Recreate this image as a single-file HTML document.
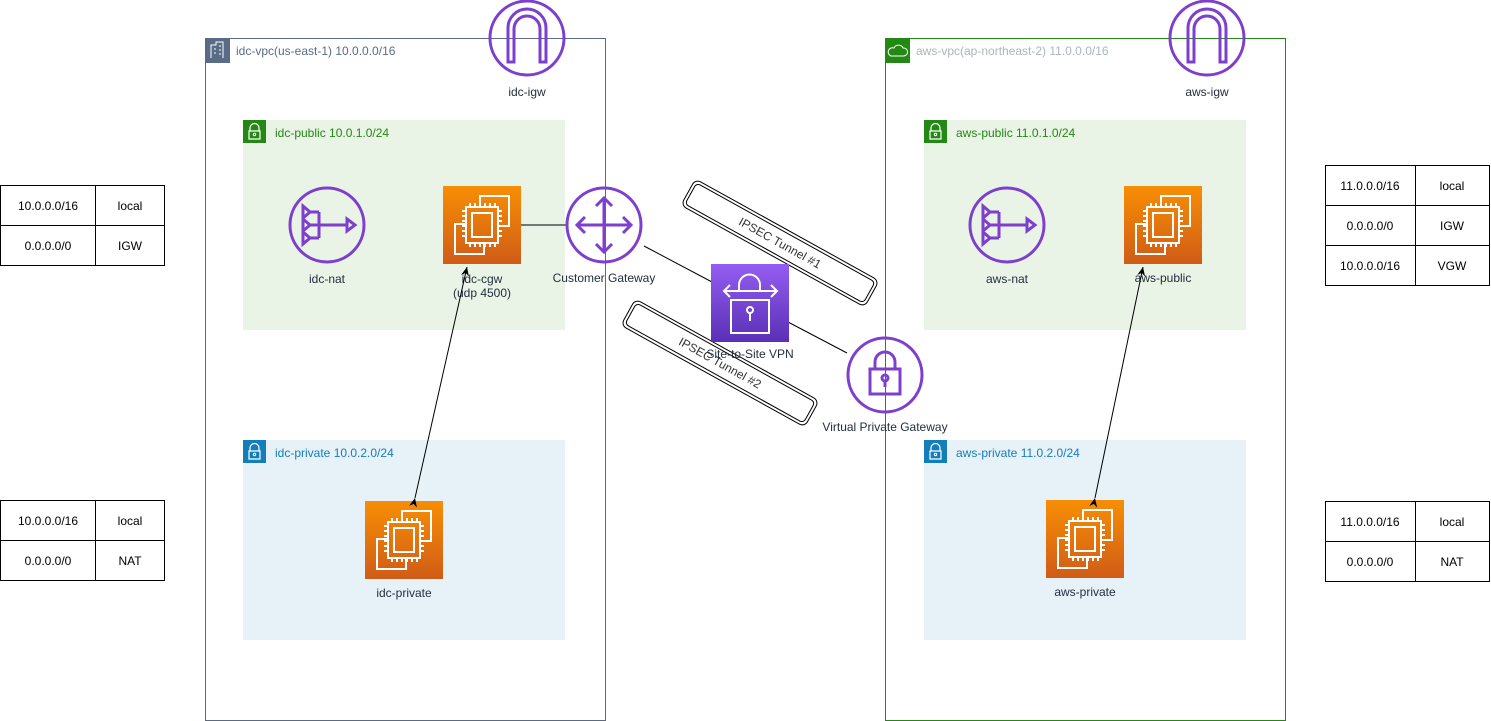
<!DOCTYPE html>
<html><head><meta charset="utf-8"><style>
html,body{margin:0;padding:0;background:#fff;}
svg{display:block;font-family:"Liberation Sans",Arial,sans-serif;}
</style></head><body>
<svg width="1491" height="721" viewBox="0 0 1491 721" xmlns="http://www.w3.org/2000/svg">
<defs>
<linearGradient id="ec2" x1="0" y1="0" x2="0" y2="1"><stop offset="0" stop-color="#F78E04"/><stop offset="1" stop-color="#D05C17"/></linearGradient>
<linearGradient id="vpn" x1="0" y1="0" x2="0" y2="1"><stop offset="0" stop-color="#945DF2"/><stop offset="1" stop-color="#5A30B5"/></linearGradient>
<marker id="ar" markerWidth="10" markerHeight="10" refX="9" refY="5" orient="auto" markerUnits="userSpaceOnUse"><path d="M0,1 L9,5 L0,9 L3,5 Z" fill="#000"/></marker>
<g id="ec2i">
<rect x="0" y="0" width="78" height="78" fill="url(#ec2)"/>
<g fill="none" stroke="#fff" stroke-width="2">
<path d="M37,21 V10 H66 V40 H55"/>
<path d="M41,57 V68 H12 V38 H23"/>
<rect x="23" y="21" width="32" height="36"/>
<rect x="29" y="27" width="20" height="24"/>
<path d="M27,17v4M32,17v4M37,17v4M42,17v4M47,17v4M52,17v4M27,57v4M32,57v4M37,57v4M42,57v4M47,57v4M52,57v4M19,25h4M19,30h4M19,35h4M19,40h4M19,45h4M19,50h4M55,25h4M55,30h4M55,35h4M55,40h4M55,45h4M55,50h4"/>
</g></g>
<g id="nat" fill="none" stroke="#7D3FCE" stroke-width="3">
<circle cx="0" cy="0" r="37"/>
<path d="M-8,0 H20 M-8,-13 V13 M-17,-13 H-8 M-17,13 H-8 M-17,0 H-8"/>
<path d="M-24,-19 L-17,-13 L-24,-7 Z M-24,-6 L-17,0 L-24,6 Z M-24,7 L-17,13 L-24,19 Z M20,-6 L28,0 L20,6 Z"/>
</g>
<g id="igw" fill="none" stroke="#7D3FCE" stroke-width="3">
<circle cx="0" cy="0" r="37"/>
<path d="M-19,24 V-10 A19,19 0 0 1 19,-10 V24 H13 V-9 A13,13 0 0 0 -13,-9 V24 Z"/>
</g>
<g id="lock"><rect width="23" height="23" fill="#248814"/><path d="M7,11 V8 A4.5,4.5 0 0 1 16,8 V11 M6,11 H17 V19 H6 Z" fill="none" stroke="#fff" stroke-width="1.2"/><circle cx="11.5" cy="14.5" r="1.2" fill="none" stroke="#fff"/></g>
<g id="lockb"><rect width="23" height="23" fill="#147EBA"/><path d="M7,11 V8 A4.5,4.5 0 0 1 16,8 V11 M6,11 H17 V19 H6 Z" fill="none" stroke="#fff" stroke-width="1.2"/><circle cx="11.5" cy="14.5" r="1.2" fill="none" stroke="#fff"/></g>
</defs>

<rect x="205.5" y="38.5" width="400" height="682" fill="none" stroke="#5A6B86"/>
<rect x="205" y="38" width="25" height="25" fill="#5A6B86"/>
<path d="M211,58 V45 H216 V42 H223 V58 M214,49h2M214,53h2M219,46h2M219,50h2M219,54h2" fill="none" stroke="#fff" stroke-width="1"/>
<text x="236" y="55" font-size="12" fill="#5A6B86">idc-vpc(us-east-1) 10.0.0.0/16</text>

<rect x="885.5" y="38.5" width="400" height="682" fill="none" stroke="#248814"/>
<rect x="885" y="38" width="25" height="25" fill="#248814"/>
<path d="M891,56 H904 A4,4 0 0 0 903,48 A5,5 0 0 0 894,48 A4,4 0 0 0 891,56 Z" fill="none" stroke="#fff" stroke-width="1"/>
<text x="916" y="55" font-size="12" fill="#AAB7B8">aws-vpc(ap-northeast-2) 11.0.0.0/16</text>

<rect x="243" y="120" width="322" height="210" fill="#E9F3E6"/>
<use href="#lock" x="243" y="120"/>
<text x="275" y="137" font-size="12" fill="#248814">idc-public 10.0.1.0/24</text>
<rect x="243" y="440" width="322" height="200" fill="#E6F2F8"/>
<use href="#lockb" x="243" y="440"/>
<text x="275" y="457" font-size="12" fill="#147EBA">idc-private 10.0.2.0/24</text>

<rect x="924" y="120" width="322" height="210" fill="#E9F3E6"/>
<use href="#lock" x="924" y="120"/>
<text x="956" y="137" font-size="12" fill="#248814">aws-public 11.0.1.0/24</text>
<rect x="924" y="440" width="322" height="200" fill="#E6F2F8"/>
<use href="#lockb" x="924" y="440"/>
<text x="956" y="457" font-size="12" fill="#147EBA">aws-private 11.0.2.0/24</text>

<use href="#igw" x="527" y="38"/>
<text x="527" y="96" font-size="12" fill="#232F3E" text-anchor="middle">idc-igw</text>
<use href="#igw" x="1207" y="38"/>
<text x="1207" y="96" font-size="12" fill="#232F3E" text-anchor="middle">aws-igw</text>

<use href="#nat" x="327" y="225"/>
<text x="327" y="283" font-size="12" fill="#232F3E" text-anchor="middle">idc-nat</text>
<use href="#nat" x="1007" y="225"/>
<text x="1007" y="283" font-size="12" fill="#232F3E" text-anchor="middle">aws-nat</text>

<use href="#ec2i" x="443" y="186"/>
<text x="482" y="283" font-size="12" fill="#232F3E" text-anchor="middle">idc-cgw</text>
<text x="482" y="297" font-size="12" fill="#232F3E" text-anchor="middle">(udp 4500)</text>
<use href="#ec2i" x="365" y="501"/>
<text x="404" y="597" font-size="12" fill="#232F3E" text-anchor="middle">idc-private</text>
<use href="#ec2i" x="1124" y="186"/>
<text x="1163" y="282" font-size="12" fill="#232F3E" text-anchor="middle">aws-public</text>
<use href="#ec2i" x="1046" y="500"/>
<text x="1085" y="596" font-size="12" fill="#232F3E" text-anchor="middle">aws-private</text>

<line x1="521" y1="225" x2="566" y2="225" stroke="#000"/>
<line x1="644" y1="246" x2="712" y2="282" stroke="#000"/>
<line x1="788" y1="322" x2="847" y2="353" stroke="#000"/>
<line x1="415" y1="498" x2="467" y2="267" stroke="#000" marker-start="url(#ar)" marker-end="url(#ar)"/>
<line x1="1095" y1="498" x2="1143" y2="267" stroke="#000" marker-start="url(#ar)" marker-end="url(#ar)"/>

<g fill="none" stroke="#7D3FCE" stroke-width="3">
<circle cx="604" cy="225" r="37"/>
<path d="M604,198 V252 M577,225 H631 M596,206 L604,198 L612,206 M596,244 L604,252 L612,244 M585,217 L577,225 L585,233 M623,217 L631,225 L623,233"/>
</g>
<text x="604" y="282" font-size="12" fill="#232F3E" text-anchor="middle">Customer Gateway</text>

<g transform="translate(780,243) rotate(29)">
<rect x="-105" y="-15" width="210" height="30" rx="6" fill="#fff" stroke="#000" stroke-width="1"/>
<rect x="-102" y="-12" width="204" height="24" rx="4" fill="none" stroke="#000" stroke-width="1"/>
<text x="0" y="4" font-size="12" fill="#333" text-anchor="middle">IPSEC Tunnel #1</text>
</g>
<g transform="translate(720,363) rotate(29)">
<rect x="-105" y="-15" width="210" height="30" rx="6" fill="#fff" stroke="#000" stroke-width="1"/>
<rect x="-102" y="-12" width="204" height="24" rx="4" fill="none" stroke="#000" stroke-width="1"/>
<text x="0" y="4" font-size="12" fill="#333" text-anchor="middle">IPSEC Tunnel #2</text>
</g>

<rect x="711" y="264" width="78" height="78" fill="url(#vpn)"/>
<g fill="none" stroke="#fff" stroke-width="2">
<path d="M739,291 V285 A10.5,10.5 0 0 1 760,285 V291"/>
<path d="M724,291 H777 M730,285 L724,291 L730,297 M771,285 L777,291 L771,297"/>
<path d="M731,300 H769 V333 H731 Z"/>
<circle cx="750" cy="310" r="3"/><path d="M750,313 V321"/>
</g>
<text x="750" y="358" font-size="12" fill="#232F3E" text-anchor="middle">Site-to-Site VPN</text>

<g fill="none" stroke="#7D3FCE" stroke-width="3">
<circle cx="885" cy="375" r="37"/>
<path d="M875,369 V362 A10,10 0 0 1 895,362 V369 M870,369 H900 V394 H870 Z"/>
<circle cx="885" cy="378" r="3"/><path d="M885,381 V387"/>
</g>
<text x="885" y="431" font-size="12" fill="#232F3E" text-anchor="middle">Virtual Private Gateway</text>

<g stroke="#000" fill="none" font-size="12">
<rect x="0.5" y="185.5" width="164" height="80"/><line x1="0" y1="225.5" x2="165" y2="225.5"/><line x1="95.5" y1="185" x2="95.5" y2="265"/>
<rect x="0.5" y="500.5" width="164" height="80"/><line x1="0" y1="540.5" x2="165" y2="540.5"/><line x1="95.5" y1="500" x2="95.5" y2="580"/>
<rect x="1325.5" y="165.5" width="164" height="120"/><line x1="1325" y1="205.5" x2="1490" y2="205.5"/><line x1="1325" y1="245.5" x2="1490" y2="245.5"/><line x1="1415.5" y1="165" x2="1415.5" y2="285"/>
<rect x="1325.5" y="501.5" width="164" height="80"/><line x1="1325" y1="541.5" x2="1490" y2="541.5"/><line x1="1415.5" y1="501" x2="1415.5" y2="581"/>
</g>
<g font-size="12" fill="#000" text-anchor="middle">
<text x="48" y="210">10.0.0.0/16</text><text x="130" y="210">local</text>
<text x="48" y="250">0.0.0.0/0</text><text x="130" y="250">IGW</text>
<text x="48" y="525">10.0.0.0/16</text><text x="130" y="525">local</text>
<text x="48" y="565">0.0.0.0/0</text><text x="130" y="565">NAT</text>
<text x="1370" y="190">11.0.0.0/16</text><text x="1452" y="190">local</text>
<text x="1370" y="230">0.0.0.0/0</text><text x="1452" y="230">IGW</text>
<text x="1370" y="270">10.0.0.0/16</text><text x="1452" y="270">VGW</text>
<text x="1370" y="526">11.0.0.0/16</text><text x="1452" y="526">local</text>
<text x="1370" y="566">0.0.0.0/0</text><text x="1452" y="566">NAT</text>
</g>
</svg>
</body></html>
